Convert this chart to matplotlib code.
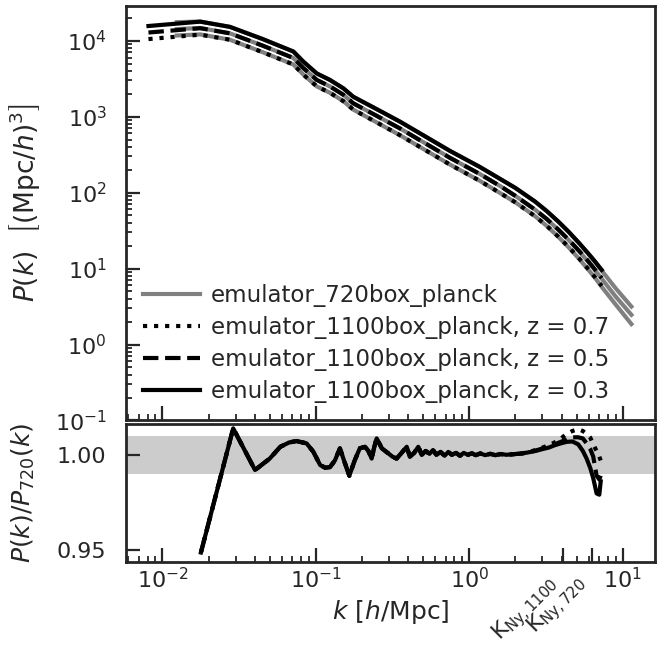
import matplotlib
matplotlib.use("Agg")
import matplotlib.pyplot as plt
from matplotlib.ticker import LogLocator, FixedLocator, NullLocator, NullFormatter

# ---------------- data ----------------
k_1100 = [0.0081, 0.0176, 0.0275, 0.045, 0.0713, 0.0828, 0.1014, 0.1235, 0.151, 0.175,
          0.25, 0.353, 0.50, 0.748, 1.17, 1.61, 2.0, 2.68, 3.2, 3.8, 4.46, 5.2, 6.0, 6.6, 7.3]
pk_1100_z03 = [1.56e4, 1.78e4, 1.52e4, 1.05e4, 7.2e3, 5.3e3, 3.7e3, 3.04e3, 2.36e3, 1.83e3,
               1.25e3, 860, 570, 354, 218, 149, 115, 76.4, 57.1, 41.7, 30.3, 21.7, 15.6, 12.4, 9.6]
pk_1100_z05 = [1.28e4, 1.46e4, 1.25e4, 8.6e3, 5.92e3, 4.36e3, 3.04e3, 2.50e3, 1.94e3, 1.50e3,
               1.02e3, 700, 463, 287, 176, 120, 90.4, 59.8, 44.9, 32.7, 23.8, 17.1, 12.3, 9.7, 7.5]
pk_1100_z07 = [1.05e4, 1.20e4, 1.03e4, 7.05e3, 4.86e3, 3.58e3, 2.50e3, 2.06e3, 1.60e3, 1.24e3,
               836, 570, 377, 234, 143, 97, 74.3, 49.0, 36.5, 26.4, 19.1, 13.6, 9.7, 7.7, 5.9]

k_720 = [0.0124, 0.0176, 0.0275, 0.045, 0.0713, 0.0828, 0.1014, 0.1235, 0.151, 0.175,
         0.25, 0.353, 0.50, 0.748, 1.17, 1.61, 2.0, 2.68, 3.2, 3.8, 4.46, 5.2, 6.0, 6.6, 7.3,
         9.0, 11.4]
pk_720_z03 = [1.75e4, 1.79e4, 1.52e4, 1.05e4, 7.2e3, 5.3e3, 3.7e3, 3.04e3, 2.36e3, 1.83e3,
              1.25e3, 860, 570, 354, 218, 149, 115, 76.4, 57.0, 41.5, 30.1, 21.5, 15.4, 12.2, 9.4,
              5.5, 3.16]
pk_720_z05 = [1.42e4, 1.47e4, 1.25e4, 8.6e3, 5.92e3, 4.36e3, 3.04e3, 2.50e3, 1.94e3, 1.50e3,
              1.02e3, 700, 463, 287, 176, 120, 90.4, 59.8, 44.8, 32.5, 23.6, 16.9, 12.1, 9.55, 7.35,
              4.28, 2.46]
pk_720_z07 = [1.17e4, 1.21e4, 1.03e4, 7.05e3, 4.86e3, 3.58e3, 2.50e3, 2.06e3, 1.60e3, 1.24e3,
              836, 570, 377, 234, 143, 97, 74.3, 49.0, 36.4, 26.2, 18.9, 13.4, 9.55, 7.55, 5.75,
              3.36, 1.86]

k_ratio = [0.0178, 0.0289, 0.0401, 0.0500, 0.0586, 0.0670, 0.0749, 0.087, 0.0962,
           0.1066, 0.1150, 0.1235, 0.1330, 0.1434, 0.1540, 0.1652, 0.1790, 0.1933,
           0.209, 0.220, 0.231, 0.240, 0.249, 0.259, 0.269, 0.283, 0.297, 0.316,
           0.336, 0.362, 0.391, 0.41, 0.437, 0.465, 0.49, 0.52, 0.55, 0.58, 0.61,
           0.65, 0.69, 0.73, 0.77, 0.82, 0.87, 0.92, 0.98, 1.04, 1.10, 1.18, 1.27,
           1.37, 1.48, 1.60, 1.75, 1.93, 2.15, 2.40,
           2.70, 3.00, 3.30, 3.60, 3.95, 4.31, 4.70, 5.13, 5.50, 5.82, 6.15, 6.43,
           6.76, 7.04, 7.19]
ratio_common = [0.9486, 1.0139, 0.992, 0.998, 1.0042, 1.0065, 1.0072, 1.006, 1.0016,
                0.9946, 0.9932, 0.9935, 0.997, 1.0034, 0.996, 0.989, 0.997, 1.0034,
                1.0042, 1.002, 0.998, 1.004, 1.0086, 1.006, 1.0034, 1.002, 1.0007, 0.999,
                0.998, 1.001, 1.0042, 0.999, 1.001, 1.0042, 1.000, 1.002, 1.0005, 1.0025, 1.000,
                1.0015, 0.9995, 1.0015, 1.0, 1.001, 0.9995, 1.001, 1.0, 1.0008, 0.9998, 1.0007, 0.9998,
                1.0005, 0.9998, 1.0004, 1.0, 1.0003, 1.0006, 1.0012]
ratio_tail_z03 = [1.002, 1.003, 1.0038, 1.005, 1.006, 1.0068, 1.007, 1.0055, 1.002,
                  0.998, 0.993, 0.9876, 0.9797, 0.979, 0.986]
ratio_tail_z05 = [1.0022, 1.0033, 1.0042, 1.0055, 1.0068, 1.008, 1.0092, 1.0092, 1.0086,
                  1.006, 1.003, 0.999, 0.989, 0.987, 0.989]
ratio_tail_z07 = [1.0025, 1.0038, 1.005, 1.0065, 1.0085, 1.011, 1.0125, 1.0135, 1.0125,
                  1.011, 1.009, 1.0055, 1.002, 0.999, 0.997]
ratio_z03 = ratio_common + ratio_tail_z03
ratio_z05 = ratio_common + ratio_tail_z05
ratio_z07 = ratio_common + ratio_tail_z07

k_ny = [4.1, 6.3]
k_ny_labels = [r"K$_{\rm Ny, 1100}$", r"K$_{\rm Ny, 720}$"]
band = (0.99, 1.01)

labels_1100 = ["emulator_1100box_planck, z = 0.7",
               "emulator_1100box_planck, z = 0.5",
               "emulator_1100box_planck, z = 0.3"]
label_720 = "emulator_720box_planck"

# ---------------- style ----------------
dark = "#262626"
plt.rcParams.update({
    "font.family": ["DejaVu Sans"],
    "text.color": dark, "axes.labelcolor": dark,
    "xtick.color": dark, "ytick.color": dark,
    "axes.edgecolor": dark, "axes.linewidth": 2.0,
    "mathtext.fontset": "dejavusans",
})
TICK = 16
LW = 3.0

fig = plt.figure(figsize=(6.62, 6.48), dpi=100)
ax1 = fig.add_axes([0.1903, 0.3511, 0.7991, 0.6389])
ax2 = fig.add_axes([0.1903, 0.1327, 0.7991, 0.2130], sharex=ax1)

# upper panel
for pk in (pk_720_z03, pk_720_z05, pk_720_z07):
    h720, = ax1.plot(k_720, pk, color="#808080", lw=LW, zorder=2)
h720.set_label(label_720)
ax1.plot(k_1100, pk_1100_z07, color="black", lw=LW, ls=":", label=labels_1100[0], zorder=3)
ax1.plot(k_1100, pk_1100_z05, color="black", lw=LW, ls="--", label=labels_1100[1], zorder=3)
ax1.plot(k_1100, pk_1100_z03, color="black", lw=LW, ls="-", label=labels_1100[2], zorder=3)
ax1.set_xscale("log")
ax1.set_yscale("log")
ax1.set_xlim(0.00578, 16.24)
ax1.set_ylim(0.1, 2.82e4)
ax1.set_ylabel(r"$P(k)\ \ \left[(\mathrm{Mpc}/h)^3\right]$", fontsize=19)
ax1.yaxis.set_label_coords(-0.159, 0.525)
ax1.legend(loc="lower left", frameon=False, fontsize=16.5, handlelength=2.5,
           handletextpad=0.45, labelspacing=0.4, borderaxespad=0.35)
ax1.tick_params(axis="x", which="both", labelbottom=False)

# lower panel
ax2.axhspan(band[0], band[1], color="#cccccc", lw=0, zorder=1)
ax2.plot(k_ratio, ratio_z07, color="black", lw=LW, ls=":", zorder=3)
ax2.plot(k_ratio, ratio_z05, color="black", lw=LW, ls="--", zorder=3)
ax2.plot(k_ratio, ratio_z03, color="black", lw=LW, ls="-", zorder=3)
ax2.set_ylim(0.9436, 1.0162)
ax2.yaxis.set_major_locator(FixedLocator([0.95, 1.00]))
ax2.set_yticklabels(["0.95", "1.00"])
ax2.yaxis.set_minor_locator(NullLocator())
ax2.set_ylabel(r"$P(k)/P_{720}(k)$", fontsize=18)
ax2.yaxis.set_label_coords(-0.168, 0.5)
ax2.set_xlabel(r"$k\ [h/\mathrm{Mpc}]$", fontsize=18)

for ax in (ax1, ax2):
    ax.tick_params(which="major", direction="in", length=10, width=1.6,
                   labelsize=TICK, top=False, right=False)
    ax.tick_params(which="minor", direction="in", length=4.5, width=1.3,
                   top=False, right=False)
    ax.tick_params(axis="y", which="both", pad=14)
ax1.yaxis.set_minor_locator(LogLocator(base=10, subs=range(2, 10), numticks=20))
ax1.yaxis.set_minor_formatter(NullFormatter())
ax1.xaxis.set_minor_locator(LogLocator(base=10, subs=range(2, 10), numticks=20))
ax1.xaxis.set_minor_formatter(NullFormatter())

sec = ax2.secondary_xaxis("bottom")
sec.set_xticks(k_ny, labels=k_ny_labels)
sec.xaxis.set_minor_locator(NullLocator())
sec.tick_params(direction="in", length=10, width=1.6, labelsize=15.5, rotation=45, pad=6)
for lab in sec.get_xticklabels():
    lab.set_ha("right")
sec.spines["bottom"].set_visible(False)

fig.savefig("out.png", dpi=100)
